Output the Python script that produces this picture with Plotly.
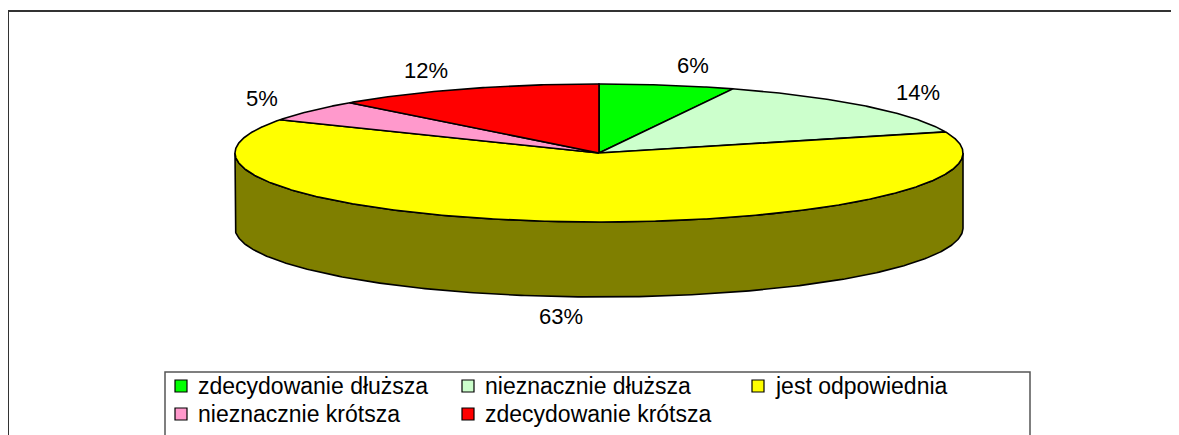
import numpy as np
import plotly.graph_objects as go

# ---- data ----
categories = ["zdecydowanie dłuższa", "nieznacznie dłuższa", "jest odpowiednia",
              "nieznacznie krótsza", "zdecydowanie krótsza"]
values = [6, 14, 63, 5, 12]
labels = ["6%", "14%", "63%", "5%", "12%"]
colors = ["#00FF00", "#CCFFCC", "#FFFF00", "#FF99CC", "#FF0000"]

# ---- style / geometry (pixels of the screen) ----
W, H = 1179, 435
OFF = 8  # page body margin
CX, CY, RX, RY, DEPTH = 599, 153, 364, 69, 75
FONT = "Liberation Sans, Arial, sans-serif"
FS_LAB = 22
FS_LEG = 23


def darker(hexcol, f=0.5):
    r, g, b = (int(hexcol[i:i + 2], 16) for i in (1, 3, 5))
    return "rgb(%d,%d,%d)" % (r * f, g * f, b * f)


def ell(a_deg, dy=0.0):
    a = np.radians(a_deg)
    return CX + RX * np.sin(a), CY - RY * np.cos(a) + dy


fig = go.Figure()

total = float(sum(values))
bounds = np.concatenate([[0], np.cumsum(values)]) / total * 360.0

# side walls (front half only: 90..270 deg clockwise from top)
for k in range(len(values)):
    a0, a1 = bounds[k], bounds[k + 1]
    s0, s1 = max(a0, 90), min(a1, 270)
    if s1 <= s0:
        continue
    t = np.linspace(s0, s1, 300)
    xt, yt = ell(t)
    xb, yb = ell(t[::-1], DEPTH)
    xs = np.concatenate([xt, xb, xt[:1]])
    ys = np.concatenate([yt, yb, yt[:1]])
    fig.add_trace(go.Scatter(x=xs, y=ys, mode="lines", fill="toself",
                             fillcolor=darker(colors[k]),
                             line=dict(color="black", width=1.6),
                             hoverinfo="skip", showlegend=False))

# top faces
for k in range(len(values)):
    a0, a1 = bounds[k], bounds[k + 1]
    t = np.linspace(a0, a1, max(int((a1 - a0) * 3), 10))
    xt, yt = ell(t)
    xs = np.concatenate([[CX], xt, [CX]])
    ys = np.concatenate([[CY], yt, [CY]])
    fig.add_trace(go.Scatter(x=xs, y=ys, mode="lines", fill="toself",
                             fillcolor=colors[k],
                             line=dict(color="black", width=1.6),
                             name=categories[k],
                             hoverinfo="skip", showlegend=False))

# data labels
annotations = []
for k in range(len(values)):
    mid = (bounds[k] + bounds[k + 1]) / 2
    a = np.radians(mid)
    s, c = np.sin(a), np.cos(a)
    lx = CX + (RX + 40) * s
    ly = CY - (RY + 20) * c + (DEPTH if c < 0 else 0)
    xa = "left" if s > 0.1 else ("right" if s < -0.1 else "center")
    annotations.append(dict(x=lx, y=ly, xref="x", yref="y", text=labels[k],
                            showarrow=False, xanchor=xa, yanchor="middle",
                            font=dict(family=FONT, size=FS_LAB, color="black")))

# manual legend (Excel-like)
shapes = []
leg_cols = [175, 462, 752]
leg_rows = [386, 414]
for k, name in enumerate(categories):
    r, cidx = divmod(k, 3)
    x0, yc = leg_cols[cidx], leg_rows[r]
    shapes.append(dict(type="rect", xref="x", yref="y", x0=x0, x1=x0 + 12,
                       y0=yc - 6, y1=yc + 6, fillcolor=colors[k],
                       line=dict(color="black", width=1.2)))
    annotations.append(dict(x=x0 + 21, y=yc, xref="x", yref="y", text=name,
                            showarrow=False, xanchor="left", yanchor="middle",
                            font=dict(family=FONT, size=FS_LEG, color="black")))

# legend box and chart frame
shapes.append(dict(type="rect", xref="x", yref="y", x0=165, x1=1030, y0=372, y1=460,
                   line=dict(color="#555555", width=1.5), fillcolor="rgba(0,0,0,0)"))
shapes.append(dict(type="rect", xref="x", yref="y", x0=8, x1=1250, y0=11, y1=460,
                   line=dict(color="#333333", width=2), fillcolor="rgba(0,0,0,0)",
                   layer="below"))

fig.update_layout(
    width=W - OFF, height=H - OFF, margin=dict(l=0, r=0, t=0, b=0),
    paper_bgcolor="white", plot_bgcolor="white",
    xaxis=dict(range=[OFF, W], visible=False, fixedrange=True),
    yaxis=dict(range=[H, OFF], visible=False, fixedrange=True),
    shapes=shapes, annotations=annotations, showlegend=False,
)

fig.write_html("out.html")
